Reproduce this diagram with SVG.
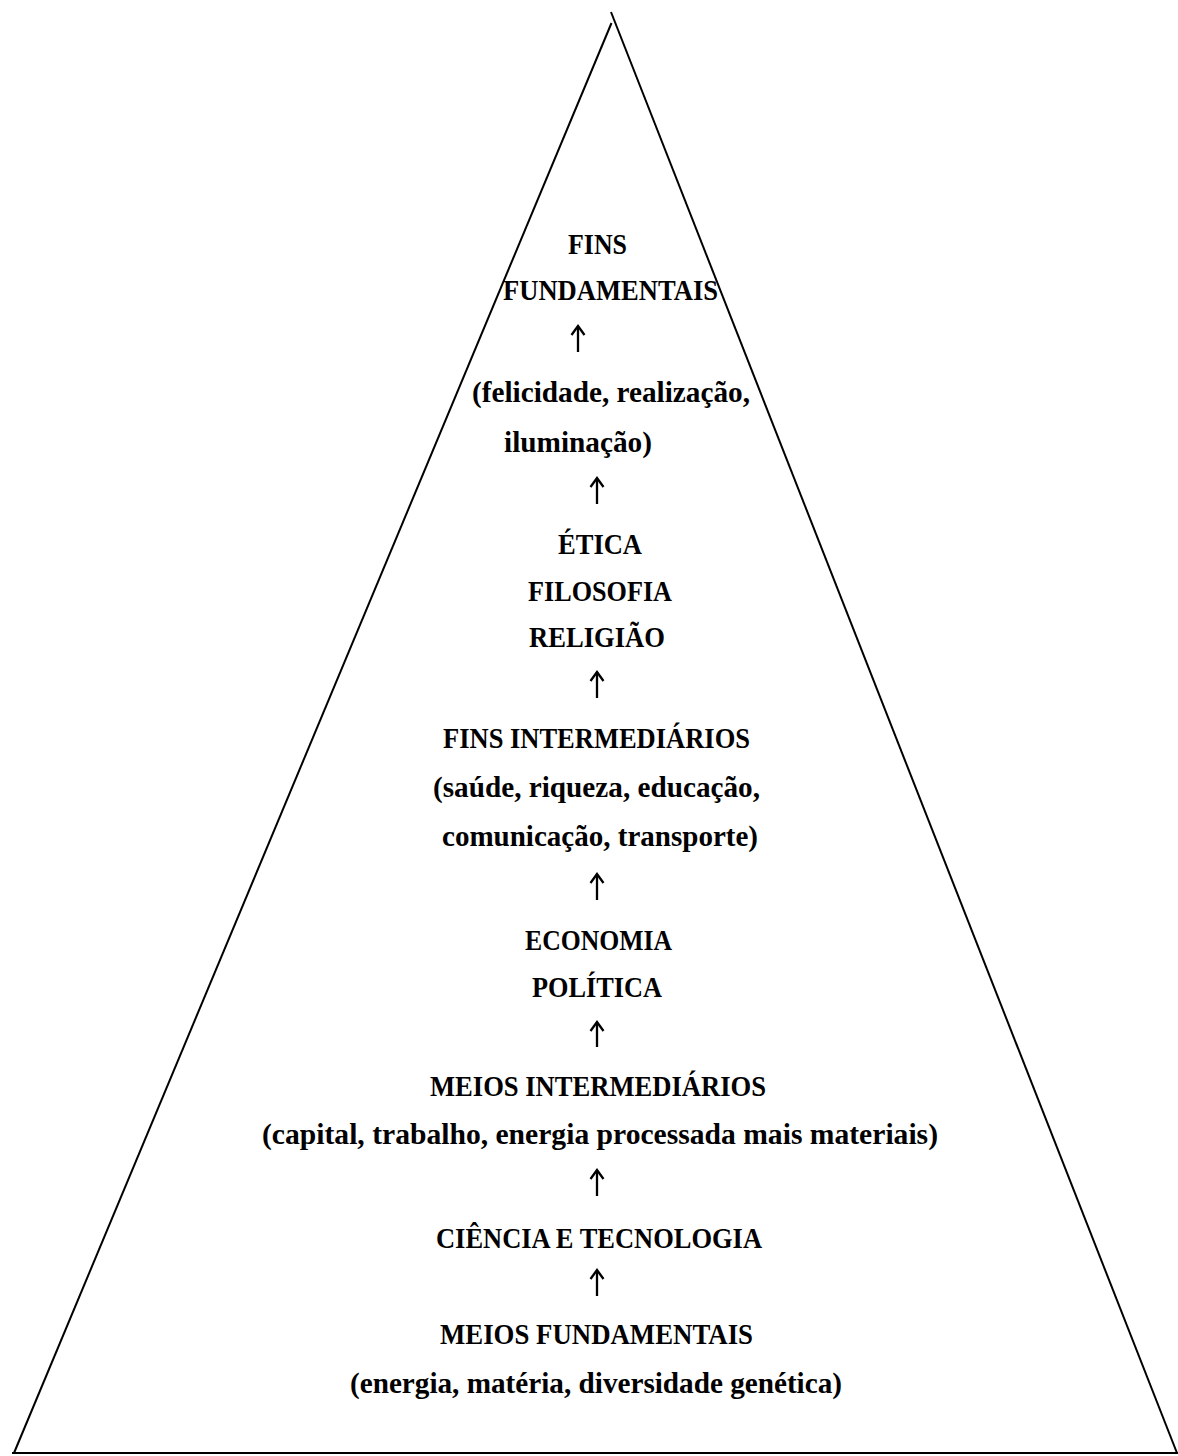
<svg xmlns="http://www.w3.org/2000/svg" width="1178" height="1456" viewBox="0 0 1178 1456">
<style>
.t{font-family:"Liberation Serif","Times New Roman",serif;font-weight:bold;font-size:29px;fill:#000}
.edge{stroke:#000;stroke-width:2;fill:none}
.arr{stroke:#000;stroke-width:2.3;fill:none;marker-end:url(#ah)}
</style>
<defs>
<marker id="ah" markerUnits="userSpaceOnUse" viewBox="-12 -8 14 16" markerWidth="14" markerHeight="16" refX="0" refY="0" orient="auto" overflow="visible">
<path d="M-9,-6.5 L0,0 L-9,6.5" fill="none" stroke="#000" stroke-width="2.3"/>
</marker>
</defs>
<rect width="1178" height="1456" fill="#fff"/>
<g id="pyramid">
<line class="edge" x1="611.5" y1="23" x2="14" y2="1453"/>
<line class="edge" x1="611" y1="12" x2="1177" y2="1453"/>
<line class="edge" x1="12" y1="1453" x2="1178" y2="1453"/>
</g>
<g id="fins-fundamentais">
<text class="t" x="568" y="254" textLength="59" lengthAdjust="spacingAndGlyphs">FINS</text>
<text class="t" x="503" y="300" textLength="215" lengthAdjust="spacingAndGlyphs">FUNDAMENTAIS</text>
</g>
<g id="felicidade">
<text class="t" x="472" y="402" textLength="278" lengthAdjust="spacingAndGlyphs">(felicidade, realização,</text>
<text class="t" x="504" y="452" textLength="148" lengthAdjust="spacingAndGlyphs">iluminação)</text>
</g>
<g id="etica">
<text class="t" x="558" y="554" textLength="84" lengthAdjust="spacingAndGlyphs">ÉTICA</text>
<text class="t" x="528" y="601" textLength="144" lengthAdjust="spacingAndGlyphs">FILOSOFIA</text>
<text class="t" x="529" y="647" textLength="136" lengthAdjust="spacingAndGlyphs">RELIGIÃO</text>
</g>
<g id="fins-intermediarios">
<text class="t" x="443" y="748" textLength="307" lengthAdjust="spacingAndGlyphs">FINS INTERMEDIÁRIOS</text>
<text class="t" x="433" y="797" textLength="327" lengthAdjust="spacingAndGlyphs">(saúde, riqueza, educação,</text>
<text class="t" x="442" y="846" textLength="316" lengthAdjust="spacingAndGlyphs">comunicação, transporte)</text>
</g>
<g id="economia-politica">
<text class="t" x="525" y="950" textLength="147" lengthAdjust="spacingAndGlyphs">ECONOMIA</text>
<text class="t" x="532" y="997" textLength="130" lengthAdjust="spacingAndGlyphs">POLÍTICA</text>
</g>
<g id="meios-intermediarios">
<text class="t" x="430" y="1096" textLength="336" lengthAdjust="spacingAndGlyphs">MEIOS INTERMEDIÁRIOS</text>
<text class="t" x="262" y="1144" textLength="676" lengthAdjust="spacingAndGlyphs">(capital, trabalho, energia processada mais materiais)</text>
</g>
<g id="ciencia-tecnologia">
<text class="t" x="436" y="1248" textLength="326" lengthAdjust="spacingAndGlyphs">CIÊNCIA E TECNOLOGIA</text>
</g>
<g id="meios-fundamentais">
<text class="t" x="440" y="1344" textLength="313" lengthAdjust="spacingAndGlyphs">MEIOS FUNDAMENTAIS</text>
<text class="t" x="350" y="1393" textLength="492" lengthAdjust="spacingAndGlyphs">(energia, matéria, diversidade genética)</text>
</g>
<g id="connectors">
<path class="arr" d="M578,352 V326"/>
<path class="arr" d="M597,504 V478"/>
<path class="arr" d="M597,698 V672"/>
<path class="arr" d="M597,900 V874"/>
<path class="arr" d="M597,1047 V1022"/>
<path class="arr" d="M597,1196 V1170"/>
<path class="arr" d="M597,1296 V1270"/>
</g>
</svg>
